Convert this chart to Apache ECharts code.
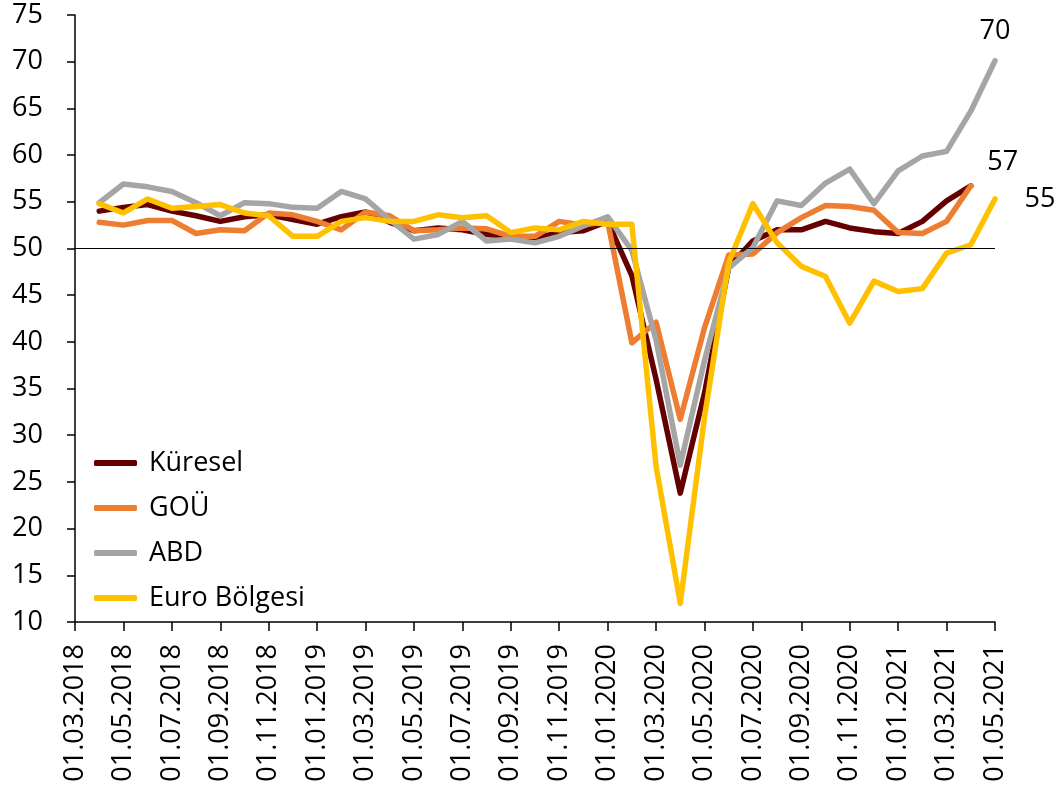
<!DOCTYPE html>
<html>
<head>
<meta charset="utf-8">
<script src="https://cdn.jsdelivr.net/npm/echarts@6/dist/echarts.min.js"></script>
<style>
html, body { margin: 0; padding: 0; background: #fff; }
#chart { width: 1059px; height: 795px; }
</style>
</head>
<body>
<div id="chart"></div>
<script>
// aylar: 01.03.2018 - 01.05.2021
var months = [];
for (var y = 2018; y <= 2021; y++) {
	for (var m = 1; m <= 12; m++) {
		if (y == 2018 && m < 3) continue;
		if (y == 2021 && m > 5) break;
		months.push('01.' + (m < 10 ? '0' + m : m) + '.' + y);
	}
}

// Nisan 2018'den itibaren veriler (Mart 2018 boş)
var kuresel = ['-', 54.0, 54.4, 54.7, 54.0, 53.5, 52.9, 53.4, 53.6, 53.1, 52.6, 53.4, 53.9,
	52.8, 51.9, 52.2, 52.0, 51.5, 51.3, 51.1, 51.7, 51.9, 52.9, 47.1, 36.0,
	23.8, 34.5, 48.0, 50.8, 52.0, 52.0, 52.9, 52.2, 51.8, 51.6, 52.9, 55.1, 56.7];
var gou = ['-', 52.8, 52.5, 53.0, 53.0, 51.6, 52.0, 51.9, 53.8, 53.6, 52.9, 52.0, 53.9,
	53.5, 51.9, 52.0, 52.2, 52.1, 51.3, 51.3, 52.9, 52.5, 52.9, 39.9, 42.1,
	31.7, 41.5, 49.3, 49.4, 51.7, 53.3, 54.6, 54.5, 54.1, 51.7, 51.6, 52.9, 56.7];
var abd = ['-', 54.9, 56.9, 56.6, 56.1, 54.9, 53.5, 54.9, 54.8, 54.4, 54.3, 56.1, 55.3,
	53.1, 51.0, 51.5, 52.9, 50.8, 51.0, 50.6, 51.3, 52.4, 53.4, 49.8, 40.2,
	26.8, 38.0, 47.9, 50.1, 55.1, 54.6, 57.0, 58.5, 54.8, 58.3, 59.9, 60.4, 64.7, 70.1];
var euro = ['-', 54.8, 53.8, 55.3, 54.3, 54.5, 54.7, 53.8, 53.5, 51.3, 51.3, 52.9, 53.3,
	52.9, 52.9, 53.6, 53.3, 53.5, 51.7, 52.2, 52.0, 52.9, 52.6, 52.6, 26.7,
	12.0, 31.9, 48.5, 54.8, 50.6, 48.1, 47.0, 42.0, 46.5, 45.4, 45.7, 49.5, 50.4, 55.3];

var fontName = 'Open Sans';
var fontSz = 27;
var myChart = echarts.init(document.getElementById('chart'));

function endLbl(offset) {
	return {
		show: true,
		formatter: function(p) { return Math.round(p.value); },
		color: '#000',
		fontFamily: fontName,
		fontSize: fontSz,
		align: 'center',
		verticalAlign: 'middle',
		distance: 0,
		offset: offset
	};
}

function lineSeries(name, data, color, lbl) {
	var s = {
		name: name,
		type: 'line',
		data: data,
		symbol: 'none',
		smooth: false,
		lineStyle: { color: color, width: 5.5, cap: 'round', join: 'round' },
		itemStyle: { color: color },
		emphasis: { disabled: true },
		animation: false
	};
	if (lbl) s.endLabel = lbl;
	return s;
}

var s0 = lineSeries('Küresel', kuresel, '#650000');
s0.markLine = {
	silent: true,
	symbol: 'none',
	label: { show: false },
	lineStyle: { color: '#000', width: 1, type: 'solid' },
	data: [{ yAxis: 50 }]
};

var option = {
	backgroundColor: '#fff',
	animation: false,
	grid: {
		left: 75,
		right: 64,
		top: 15,
		bottom: 173,
		containLabel: false,
		outerBoundsMode: 'none'
	},
	legend: {
		orient: 'vertical',
		left: 89,
		top: 443,
		icon: 'roundRect',
		itemWidth: 43,
		itemHeight: 6,
		itemGap: 15,
		textStyle: {
			fontFamily: fontName,
			fontSize: fontSz,
			color: '#000',
			lineHeight: 30,
			padding: [0, 0, 0, 7]
		},
		data: ['Küresel', 'GOÜ', 'ABD', 'Euro Bölgesi']
	},
	xAxis: {
		type: 'category',
		data: months,
		boundaryGap: false,
		axisLine: { show: true, onZero: false, lineStyle: { color: '#000', width: 1.5 } },
		axisTick: { show: true, interval: 1, length: 9, lineStyle: { color: '#000', width: 1.5 } },
		axisLabel: {
			interval: 1,
			rotate: 90,
			margin: 22,
			color: '#000',
			fontFamily: fontName,
			fontSize: fontSz
		},
		splitLine: { show: false }
	},
	yAxis: {
		type: 'value',
		min: 10,
		max: 75,
		interval: 5,
		axisLine: { show: true, lineStyle: { color: '#000', width: 1.5 } },
		axisTick: { show: true, length: 8, lineStyle: { color: '#000', width: 1.5 } },
		axisLabel: {
			margin: 32,
			color: '#000',
			fontFamily: fontName,
			fontSize: fontSz
		},
		splitLine: { show: false }
	},
	series: [
		s0,
		lineSeries('GOÜ', gou, '#ED7D31', endLbl([32, -24])),
		lineSeries('ABD', abd, '#A5A5A5', endLbl([0, -29])),
		lineSeries('Euro Bölgesi', euro, '#FFC000', endLbl([45, 0]))
	]
};

myChart.setOption(option);
window.onresize = function() {
	myChart.resize();
};
</script>
</body>
</html>
